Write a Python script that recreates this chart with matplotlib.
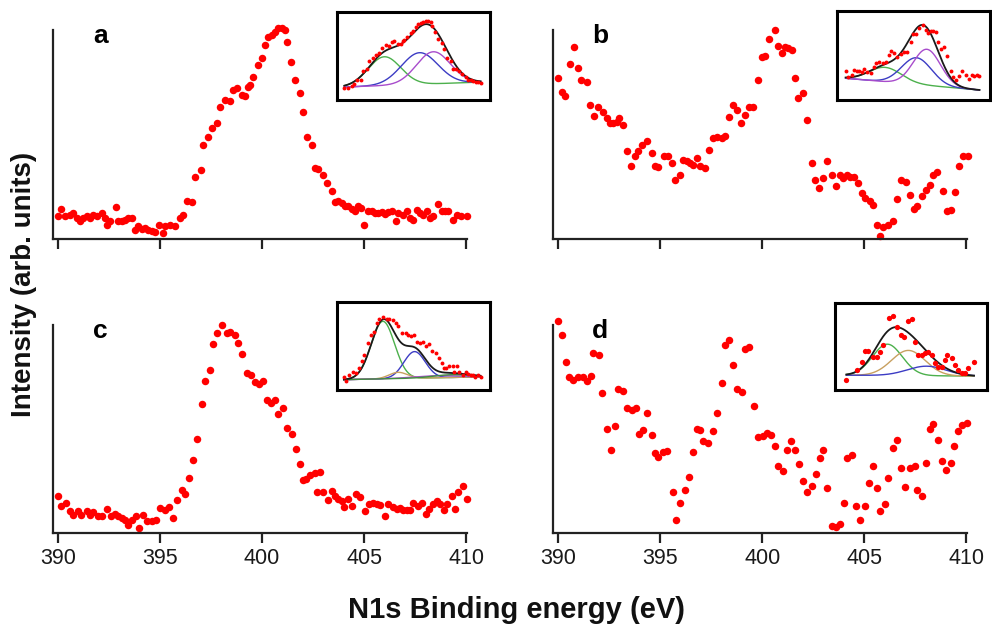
import numpy as np
import matplotlib
matplotlib.use('Agg')
import matplotlib.pyplot as plt

plt.rcParams['font.family'] = ['Liberation Sans', 'DejaVu Sans']

#%% dados (energia em eV, intensidade em unidades arbitrárias)
ea = [390.00, 390.16, 390.33, 390.57, 390.74, 390.90, 391.06, 391.23, 391.39, 391.55,
      391.72, 391.88, 392.13, 392.29, 392.37, 392.53, 392.83, 392.94, 393.11, 393.27,
      393.43, 393.60, 393.76, 393.92, 394.09, 394.25, 394.42, 394.58, 394.74, 394.96,
      395.15, 395.23, 395.48, 395.72, 395.97, 396.13, 396.30, 396.54, 396.70, 396.98,
      397.11, 397.36, 397.52, 397.77, 397.93, 398.18, 398.42, 398.59, 398.75, 398.99,
      399.16, 399.32, 399.40, 399.57, 399.81, 399.98, 400.14, 400.30, 400.47, 400.63,
      400.79, 400.96, 401.12, 401.23, 401.40, 401.61, 401.86, 402.02, 402.18, 402.43,
      402.59, 402.76, 403.00, 403.16, 403.41, 403.57, 403.74, 403.90, 404.06, 404.23,
      404.39, 404.55, 404.72, 404.83, 405.00, 405.21, 405.37, 405.54, 405.70, 405.86,
      406.03, 406.19, 406.35, 406.57, 406.68, 406.93, 407.09, 407.25, 407.42, 407.58,
      407.74, 407.91, 408.07, 408.23, 408.40, 408.64, 408.81, 408.97, 409.13, 409.38,
      409.54, 409.74, 410.03]
ia = [11.1, 14.5, 10.8, 11.6, 12.4, 10.0, 8.4, 10.0, 10.8, 10.0,
      11.6, 10.8, 12.4, 10.0, 6.8, 8.4, 15.1, 8.4, 8.4, 9.2,
      10.0, 10.0, 4.5, 6.1, 4.8, 5.3, 4.1, 3.7, 3.2, 6.8,
      2.9, 6.4, 6.8, 6.4, 10.0, 11.6, 18.0, 17.5, 29.9, 33.1,
      45.1, 48.6, 53.0, 55.4, 63.4, 66.6, 65.8, 71.3, 72.1, 68.9,
      68.6, 72.9, 73.7, 77.7, 83.3, 86.5, 92.8, 96.8, 97.6, 99.2,
      100.8, 101.1, 100.0, 94.4, 84.9, 76.1, 69.7, 61.0, 48.7, 45.1,
      33.9, 33.4, 30.7, 26.8, 22.8, 17.5, 18.0, 17.2, 15.6, 15.6,
      14.3, 13.2, 15.6, 14.8, 6.8, 13.2, 13.2, 12.4, 12.4, 12.7,
      12.1, 12.9, 13.2, 8.4, 12.4, 11.6, 13.2, 10.0, 9.2, 14.0,
      12.4, 11.6, 13.2, 10.0, 10.8, 16.7, 13.2, 13.2, 13.2, 9.2,
      11.6, 10.8, 10.8]

eb = [390.00, 390.16, 390.33, 390.57, 390.78, 390.98, 391.14, 391.39, 391.55, 391.77,
      391.96, 392.21, 392.37, 392.53, 392.70, 392.86, 392.99, 393.19, 393.39, 393.55,
      393.76, 393.92, 394.09, 394.33, 394.58, 394.74, 394.91, 395.18, 395.36, 395.56,
      395.72, 395.97, 396.13, 396.30, 396.46, 396.62, 396.79, 396.95, 397.20, 397.41,
      397.57, 397.77, 398.01, 398.18, 398.39, 398.55, 398.75, 398.95, 399.16, 399.37,
      399.57, 399.81, 399.98, 400.14, 400.35, 400.63, 400.79, 400.96, 401.12, 401.28,
      401.45, 401.61, 401.77, 402.02, 402.22, 402.43, 402.59, 402.80, 403.00, 403.20,
      403.41, 403.62, 403.82, 403.98, 404.15, 404.31, 404.51, 404.72, 404.88, 405.04,
      405.29, 405.45, 405.62, 405.78, 405.94, 406.19, 406.43, 406.63, 406.81, 407.06,
      407.25, 407.45, 407.61, 407.82, 408.02, 408.23, 408.40, 408.56, 408.86, 409.05,
      409.25, 409.46, 409.67, 409.87, 410.07]
ib = [76.9, 70.5, 68.6, 83.6, 92.0, 81.7, 76.1, 75.3, 63.9, 58.9,
      63.4, 61.0, 57.8, 55.4, 55.4, 56.2, 57.8, 54.6, 41.9, 34.7,
      39.5, 41.9, 45.1, 46.7, 41.1, 34.7, 34.4, 39.5, 39.8, 36.3,
      28.3, 30.7, 37.9, 37.1, 36.3, 35.5, 38.7, 34.7, 33.9, 42.7,
      48.2, 49.0, 48.2, 49.4, 58.6, 64.2, 61.8, 55.4, 59.4, 63.4,
      63.4, 76.1, 87.3, 87.6, 95.5, 100.0, 92.5, 88.9, 92.0, 91.2,
      90.4, 76.9, 67.4, 69.7, 57.0, 36.3, 28.3, 24.4, 29.1, 37.1,
      30.7, 25.2, 30.7, 29.1, 30.7, 29.9, 29.9, 26.8, 22.0, 19.6,
      18.0, 16.4, 6.8, 1.3, 5.7, 6.8, 8.4, 19.1, 28.3, 27.5,
      21.2, 14.3, 15.6, 20.4, 23.6, 26.0, 30.7, 32.3, 22.8, 13.2,
      13.7, 22.3, 34.7, 39.8, 39.5]

ec = [390.00, 390.16, 390.38, 390.57, 390.74, 390.98, 391.14, 391.39, 391.55, 391.72,
      391.96, 392.17, 392.37, 392.57, 392.78, 392.94, 393.11, 393.27, 393.43, 393.60,
      393.81, 393.97, 394.17, 394.37, 394.58, 394.79, 394.99, 395.23, 395.45, 395.61,
      395.81, 396.05, 396.23, 396.43, 396.62, 396.79, 397.03, 397.20, 397.44, 397.60,
      397.77, 398.01, 398.26, 398.42, 398.67, 398.83, 398.99, 399.24, 399.48, 399.65,
      399.86, 400.06, 400.22, 400.42, 400.63, 400.79, 401.04, 401.20, 401.45, 401.66,
      401.86, 402.02, 402.15, 402.35, 402.59, 402.67, 402.84, 403.00, 403.25, 403.41,
      403.57, 403.74, 403.90, 404.01, 404.23, 404.39, 404.60, 404.80, 405.04, 405.26,
      405.45, 405.62, 405.78, 406.03, 406.19, 406.40, 406.60, 406.76, 406.93, 407.09,
      407.25, 407.42, 407.66, 407.82, 408.04, 408.20, 408.36, 408.56, 408.72, 408.92,
      409.08, 409.30, 409.46, 409.62, 409.87, 410.07]
ic = [17.6, 12.8, 14.4, 10.4, 8.8, 10.4, 8.8, 10.4, 8.8, 9.9,
      8.3, 8.3, 11.5, 8.0, 9.3, 8.0, 7.2, 6.1, 4.0, 6.4,
      8.0, 2.4, 8.8, 5.6, 5.6, 6.1, 12.0, 10.9, 12.5, 7.2,
      16.0, 20.5, 18.9, 26.4, 35.2, 45.1, 62.1, 73.1, 78.4, 90.7,
      96.0, 100.0, 96.0, 96.5, 95.2, 91.2, 86.1, 76.8, 76.0, 72.8,
      71.7, 73.1, 64.0, 62.4, 64.0, 57.1, 60.0, 50.4, 47.7, 40.3,
      33.3, 25.6, 25.9, 28.0, 28.8, 19.5, 29.1, 19.5, 16.0, 20.0,
      17.6, 16.3, 15.2, 12.5, 16.3, 12.8, 18.7, 17.3, 10.4, 14.1,
      14.4, 14.1, 13.6, 8.3, 14.1, 12.5, 11.5, 12.0, 10.9, 10.9,
      10.9, 14.4, 12.8, 14.4, 9.3, 11.5, 14.1, 15.2, 14.1, 11.2,
      14.1, 17.6, 11.5, 19.5, 22.7, 16.3]

ed = [390.00, 390.16, 390.38, 390.54, 390.74, 390.98, 391.19, 391.39, 391.59, 391.72,
      392.01, 392.17, 392.37, 392.57, 392.78, 392.94, 393.19, 393.35, 393.60, 393.81,
      393.97, 394.17, 394.37, 394.58, 394.74, 394.91, 395.12, 395.31, 395.61, 395.77,
      395.97, 396.21, 396.43, 396.62, 396.79, 396.95, 397.11, 397.36, 397.57, 397.80,
      398.01, 398.18, 398.39, 398.59, 398.75, 398.99, 399.16, 399.37, 399.60, 399.81,
      400.02, 400.22, 400.42, 400.63, 400.79, 401.04, 401.20, 401.40, 401.61, 401.82,
      402.02, 402.18, 402.43, 402.64, 402.84, 403.00, 403.20, 403.41, 403.62, 403.82,
      404.01, 404.18, 404.39, 404.60, 404.80, 405.04, 405.26, 405.42, 405.62, 405.78,
      406.03, 406.19, 406.43, 406.63, 406.79, 407.01, 407.25, 407.50, 407.61, 407.82,
      408.04, 408.23, 408.40, 408.64, 408.81, 409.02, 409.25, 409.41, 409.62, 409.79,
      410.03]
id_ = [102.1, 95.2, 82.4, 74.9, 73.6, 74.9, 74.9, 73.3, 75.5, 86.7,
       85.6, 67.2, 49.9, 39.7, 51.2, 69.1, 68.5, 60.0, 59.2, 60.0,
       47.7, 49.3, 57.9, 47.2, 38.4, 36.5, 38.7, 39.2, 19.5, 6.1,
       14.4, 20.8, 26.9, 38.7, 49.9, 49.6, 44.0, 43.2, 48.8, 57.9,
       72.3, 90.4, 92.8, 80.8, 69.1, 68.0, 88.3, 89.6, 61.1, 46.1,
       46.7, 48.3, 47.2, 41.6, 32.3, 29.6, 39.7, 44.0, 40.0, 33.3,
       24.8, 19.5, 22.4, 28.5, 36.0, 40.0, 21.6, 3.5, 2.9, 4.5,
       14.4, 36.0, 37.6, 12.8, 6.1, 12.8, 24.0, 32.0, 21.6, 10.4,
       14.1, 26.4, 40.8, 44.8, 31.2, 22.1, 31.2, 32.0, 20.8, 17.9,
       33.6, 49.9, 52.5, 44.5, 34.4, 30.1, 33.6, 41.9, 48.8, 52.0,
       53.1]

# pontos do detalhe (d), que não são os mesmos do painel principal
ed_ins = [396.03, 396.43, 396.75, 396.97, 397.19, 397.52, 397.74, 397.96, 398.18, 398.57,
          398.79, 399.06, 399.34, 399.54, 399.83, 400.04, 400.26, 400.48, 400.70, 400.92,
          401.14, 401.36, 401.58, 401.80, 402.02, 402.24, 402.39, 402.68, 402.89, 403.11,
          403.33, 403.55, 403.77, 404.05]
id_ins = [11.5, 23.1, 32.7, 45.0, 45.0, 38.4, 38.4, 44.2, 51.9, 82.7,
          84.6, 73.0, 62.7, 61.5, 79.6, 81.5, 55.7, 40.4, 40.4, 42.3,
          43.4, 40.4, 30.8, 26.9, 26.9, 34.6, 40.4, 36.5, 28.8, 23.1,
          19.2, 19.2, 25.0, 32.7]

# componentes do ajuste de cada detalhe: centro (eV), altura, largura a meia altura (eV)
cen_a = [398.1, 400.4, 401.3]
alt_a = [40.5, 44.4, 45.0]
lar_a = [2.5, 2.8, 2.6]
cor_a = ['#4cb04c', '#3c3cc4', '#a84ccc']
fundo_a = [8.0, 15.0]

cen_b = [398.15, 400.2, 400.87]
alt_b = [19.8, 36.8, 49.7]
lar_b = [2.5, 2.3, 2.1]
cor_b = ['#4cb04c', '#3c3cc4', '#a84ccc']
fundo_b = [26.6, 10.5]

cen_c = [398.0, 400.07, 399.0, 401.5, 402.5]
alt_c = [83.0, 38.4, 9.0, 3.0, 4.0]
lar_c = [1.8, 1.65, 1.4, 3.5, 2.8]
cor_c = ['#4cb04c', '#3c3cc4', '#c8a060', '#a84ccc', '#3f8f3f']
fundo_c = [9.0, 13.0]

cen_d = [398.45, 399.83, 401.03]
alt_d = [36.0, 29.0, 11.0]
lar_d = [2.3, 2.6, 3.0]
cor_d = ['#4cb04c', '#c8a060', '#3c3cc4']
fundo_d = [17.0, 16.0]

letras = ['a', 'b', 'c', 'd']
ticks_x = [390, 395, 400, 405, 410]


#%% funções
def pico(x, c, h, w):
    return h * np.exp(-4 * np.log(2) * (x - c) ** 2 / w ** 2)


def detalhe(fig, ret, ex, iy, cen, alt, lar, cor, fundo, lim_y, ms):
    ax = fig.add_axes(ret)
    x = np.linspace(ex[0], ex[-1], 300)
    bg = np.interp(x, [x[0], x[-1]], fundo)
    soma = bg.copy()
    for c, h, w, k in zip(cen, alt, lar, cor):
        y = pico(x, c, h, w)
        soma = soma + y
        ax.plot(x, bg + y, color=k, lw=1.0, zorder=2)
    ax.plot(x, soma, color='#1a1a1a', lw=1.3, zorder=3)
    ax.plot(ex, iy, 'o', color='red', ms=ms, mec='none', zorder=4)
    ax.set_xlim(395, 405)
    ax.set_ylim(lim_y)
    ax.set_xticks([])
    ax.set_yticks([])
    for s in ax.spines.values():
        s.set_linewidth(2.2)
        s.set_color('black')
    return ax


#%% figura
fig = plt.figure(figsize=(9.92, 6.33), dpi=100)

L = [0.0531, 0.5572]
B = [0.6224, 0.1580]
W = 0.4177
H = [0.3302, 0.3286]

dados = [(ea, ia), (eb, ib), (ec, ic), (ed, id_)]
for k, (ex, iy) in enumerate(dados):
    lin, col = k // 2, k % 2
    ax = fig.add_axes([L[col], B[lin], W, H[lin]])
    ax.plot(ex, iy, 'o', color='red', ms=5.4, mec='none', clip_on=False)
    ax.set_xlim(389.73, 410.05)
    ax.set_ylim(0, 100)
    ax.set_yticks([])
    ax.set_xticks(ticks_x)
    ax.tick_params(axis='x', direction='out', length=7, width=1.6, color='#222222',
                   labelsize=15.5, labelcolor='#1a1a1a', pad=4)
    if lin == 0:
        ax.tick_params(axis='x', labelbottom=False)
    for s in ['top', 'right']:
        ax.spines[s].set_visible(False)
    for s in ['left', 'bottom']:
        ax.spines[s].set_linewidth(1.6)
        ax.spines[s].set_color('#222222')
    ax.text(0.115, 0.97, letras[k], transform=ax.transAxes, fontsize=19,
            fontweight='bold', ha='center', va='center')

# detalhes com os ajustes
sel = lambda e, i: ([a for a in e if 395.4 <= a <= 404.4],
                    [b for a, b in zip(e, i) if 395.4 <= a <= 404.4])

xa, ya = sel(ea, ia)
detalhe(fig, [0.3397, 0.842, 0.1542, 0.139], xa, ya, cen_a, alt_a, lar_a, cor_a,
        fundo_a, (-10.2, 113.4), 2.8)
xb, yb = sel(eb, ib)
detalhe(fig, [0.8438, 0.842, 0.1542, 0.1406], xb, yb, cen_b, alt_b, lar_b, cor_b,
        fundo_b, (-3.3, 119.2), 2.8)
xc, yc = sel(ec, ic)
detalhe(fig, [0.3397, 0.3839, 0.1542, 0.139], xc, yc, cen_c, alt_c, lar_c, cor_c,
        fundo_c, (-5.9, 121.0), 2.8)
detalhe(fig, [0.8417, 0.3839, 0.1532, 0.1374], [395.75] + ed_ins[1:-1] + [404.15],
        [id_ins[0]] + id_ins[1:-1] + [id_ins[-1]], cen_d, alt_d, lar_d, cor_d,
        fundo_d, (0, 100), 3.8)

fig.text(0.024, 0.55, 'Intensity (arb. units)', rotation=90, fontsize=20,
         fontweight='bold', ha='center', va='center', color='#111111')
fig.text(0.5207, 0.036, 'N1s Binding energy (eV)', fontsize=21,
         fontweight='bold', ha='center', va='center', color='#111111')

fig.savefig('out.png', dpi=100)
